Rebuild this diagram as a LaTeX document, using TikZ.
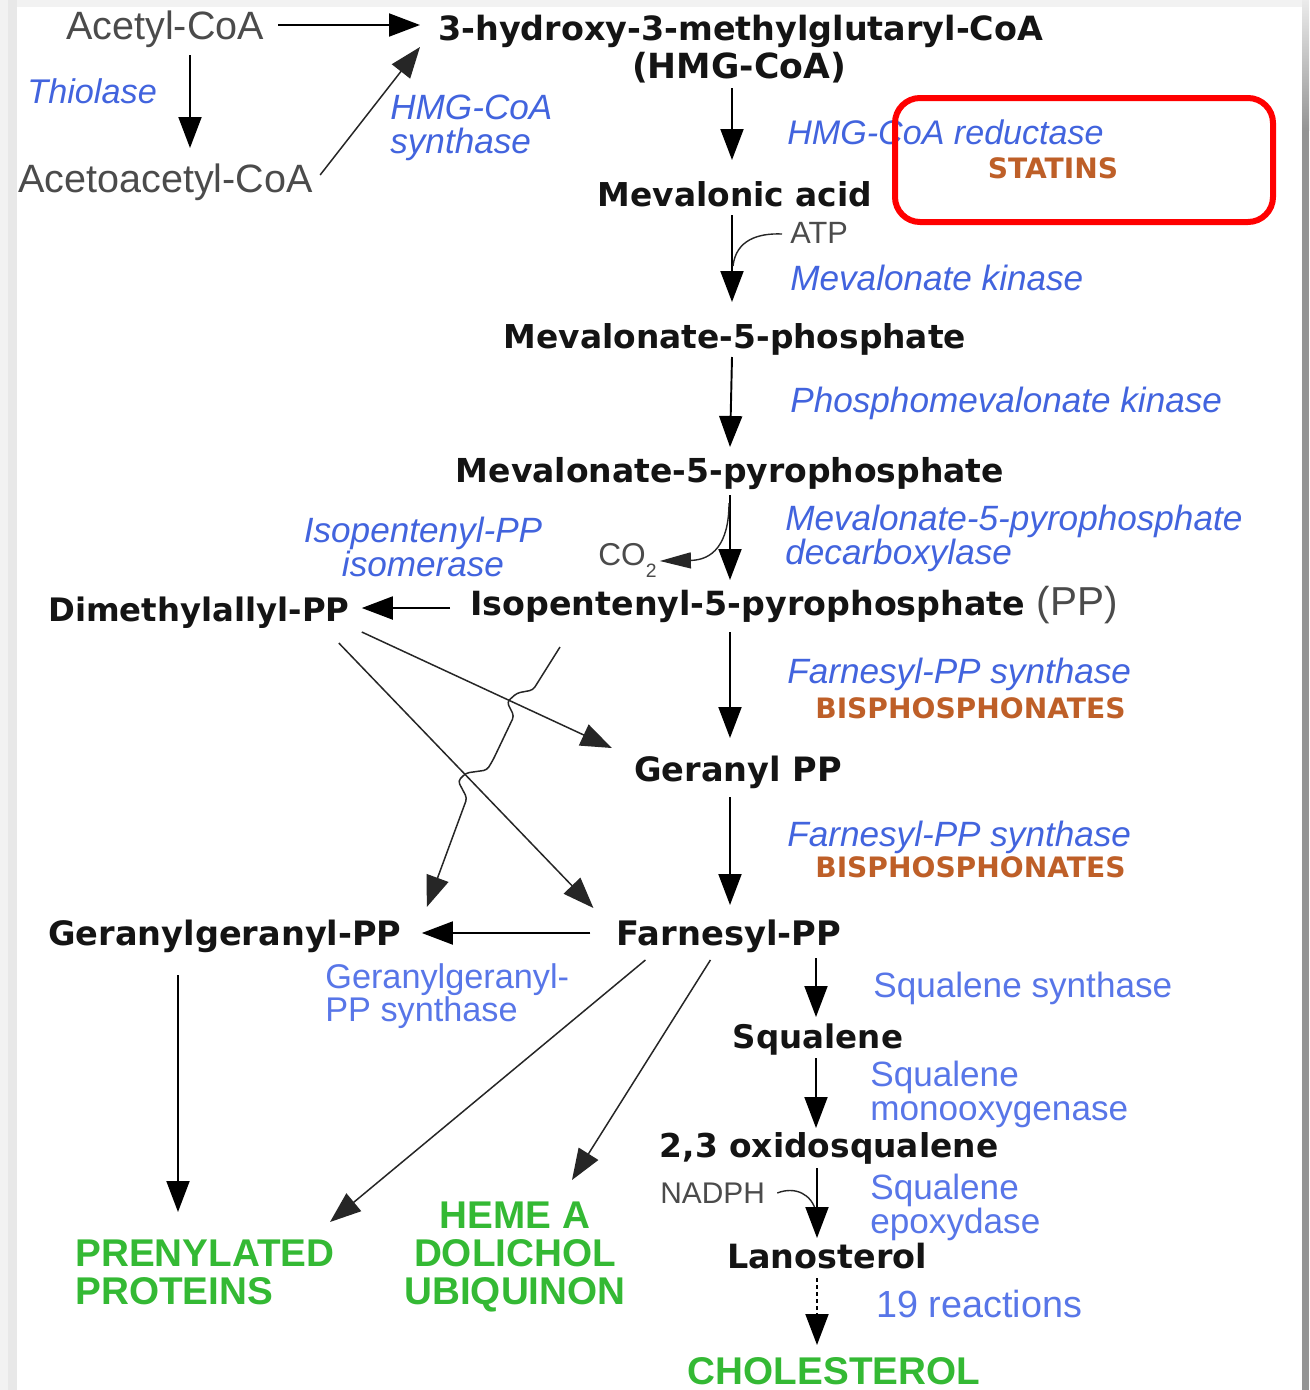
\documentclass[tikz,border=0pt]{standalone}
\usepackage{fontspec}
\setmainfont{Liberation Sans}
\newfontfamily\djv{DejaVu Sans}
\usetikzlibrary{arrows.meta,calc}
\definecolor{enzblue}{RGB}{66,100,222}
\definecolor{enzblueu}{RGB}{88,118,232}
\definecolor{drugor}{RGB}{190,95,40}
\definecolor{prodgreen}{RGB}{52,185,52}
\definecolor{subgray}{RGB}{75,75,75}
\definecolor{boxred}{RGB}{255,0,0}
\begin{document}
\begin{tikzpicture}[x=0.02cm,y=-0.02cm,
  met/.style={text=black!92, inner sep=0pt, font=\djv\bfseries\fontsize{#1}{#1}\selectfont}, met/.default=18.8,
  gry/.style={text=subgray, inner sep=0pt, font=\fontsize{#1}{#1}\selectfont}, gry/.default=22.5,
  enz/.style={text=enzblue, inner sep=0pt, font=\itshape\fontsize{#1}{19.3}\selectfont}, enz/.default=20,
  enzu/.style={text=enzblueu, inner sep=0pt, font=\fontsize{#1}{19}\selectfont}, enzu/.default=20,
  drug/.style={text=drugor, inner sep=0pt, font=\djv\bfseries\fontsize{16}{16}\selectfont},
  prod/.style={text=prodgreen, inner sep=0pt, font=\bfseries\fontsize{22}{21.6}\selectfont},
  arr/.style={draw=black, line width=1.1pt, -{Triangle[length=0.62cm,width=0.46cm]}},
  tarr/.style={draw=black!85, line width=0.85pt, -{Triangle[length=0.62cm,width=0.46cm]}},
  thinline/.style={draw=black!85, line width=0.8pt},
]
\useasboundingbox (0,0) rectangle (1309,1390);
% background and frame
\fill[black!5] (0,0) rectangle (1309,1390);
\fill[black!9] (8,0) rectangle (17,1390);
\fill[white] (17,7) rectangle (1302,1390);
\shade[top color=black!8, bottom color=black!42] (1302,0) rectangle (1309,130);
\fill[black!42] (1302,130) rectangle (1309,1390);

% nodes
\node[gry, anchor=base west] (acetyl) at (66,39) {Acetyl-CoA};
\node[gry, anchor=base west] (acetoac) at (18,192) {Acetoacetyl-CoA};
\node[enz=19.5, anchor=base west] (thiol) at (27,103) {Thiolase};
\node[enz, anchor=north west, align=left] (hmgs) at (390,95) {HMG-CoA\\synthase};
\node[met=19, anchor=base west] (hmg) at (438,40) {3-hydroxy-3-methylglutaryl-CoA};
\node[met=19.7, anchor=base] (hmgb) at (739,78) {(HMG-CoA)};
\node[enz=19.4, anchor=base west] (red) at (787,144) {HMG-CoA reductase};
\node[drug, anchor=base] (stat) at (1053,178) {STATINS};
\node[met=18.7, anchor=base] (mev) at (735,206) {Mevalonic acid};
\node[gry=17.5, anchor=base west] (atp) at (790,243) {ATP};
\node[enz, anchor=base west] (mevk) at (790,290) {Mevalonate kinase};
\node[met=18.7, anchor=base] (m5p) at (735,348) {Mevalonate-5-phosphate};
\node[enz, anchor=base west] (pmk) at (790,412) {Phosphomevalonate kinase};
\node[met=18.78, anchor=base] (m5pp) at (730,482) {Mevalonate-5-pyrophosphate};
\node[enz, anchor=north west, align=left] (mpd) at (785,505) {Mevalonate-5-pyrophosphate\\decarboxylase};
\node[enz, anchor=north, align=center] (ipi) at (423,517) {Isopentenyl-PP\\isomerase};
\node[gry=18, anchor=base west] (co2) at (598,565) {CO\raisebox{-7pt}{\fontsize{11}{11}\selectfont 2}};
\node[met=18.95, anchor=base west] (ipp) at (470,615) {Isopentenyl-5-pyrophosphate {\mdseries\rmfamily\color{subgray}\fontsize{23}{23}\selectfont(PP)}};
\node[met=18.4, anchor=base west] (dmapp) at (48,621) {Dimethylallyl-PP};
\node[enz, anchor=base west] (fps1) at (787,683) {Farnesyl-PP synthase};
\node[drug, anchor=base west] (bis1) at (815,718) {BISPHOSPHONATES};
\node[met=19.1, anchor=base] (gpp) at (738,781) {Geranyl PP};
\node[enz, anchor=base west] (fps2) at (787,846) {Farnesyl-PP synthase};
\node[drug, anchor=base west] (bis2) at (815,877) {BISPHOSPHONATES};
\node[met=19.2, anchor=base] (fpp) at (729,945) {Farnesyl-PP};
\node[met=19.1, anchor=base west] (ggpp) at (48,945) {Geranylgeranyl-PP};
\node[enzu=19.5, anchor=north west, align=left] (ggps) at (325,963) {Geranylgeranyl-\\PP synthase};
\node[enzu, anchor=base west] (sqs) at (873,997) {Squalene synthase};
\node[met=18.5, anchor=base] (sq) at (818,1048) {Squalene};
\node[enzu, anchor=north west, align=left] (sqm) at (870,1061) {Squalene\\monooxygenase};
\node[met=18.7, anchor=base] (ox) at (829,1157) {2,3 oxidosqualene};
\node[gry=17, anchor=base west] (nadph) at (660,1203) {NADPH};
\node[enzu, anchor=north west, align=left] (sqe) at (870,1174) {Squalene\\epoxydase};
\node[met=19, anchor=base] (lan) at (827,1268) {Lanosterol};
\node[enzu=21.5, anchor=base west] (r19) at (876,1317) {19 reactions};
\node[prod, anchor=base] (chol) at (834,1384) {CHOLESTEROL};
\node[prod, anchor=north, align=center] (heme) at (515,1202) {HEME A\\DOLICHOL\\UBIQUINON};
\node[prod, anchor=north west, align=left] (prenyl) at (75,1240) {PRENYLATED\\PROTEINS};

% red highlight box
\draw[boxred, line width=0.12cm, rounded corners=0.5cm] (895,98) rectangle (1273,222);

% connectors
\draw[arr] ($(acetyl.base west)+(124,16)$) -- ($(acetoac.base west)+(172,-44)$);
\draw[arr] ($(acetyl.base east)+(14,-14)$) -- ($(hmg.base west)+(-18,-15)$);
\draw[tarr] ($(acetoac.base east)+(7,-17)$) -- ($(hmg.base west)+(-18,7)$);
\draw[arr] ($(hmgb.base)+(-7,10)$) -- ($(mev.base)+(-3,-46)$);
\draw[arr] ($(mev.base)+(-3,9)$) -- ($(m5p.base)+(-3,-46)$);
\coordinate (atpj) at (733,266);
\draw[thinline] ($(atp.base west)+(-8,-9)$) .. controls (758,233) and (736,240) .. (atpj);
\draw[arr] ($(m5p.base)+(-3,9)$) -- ($(m5pp.base)+(0,-35)$);
\draw[arr] ($(m5pp.base)+(0,13)$) -- ($(ipp.base west)+(260,-35)$);
\coordinate (co2j) at (729,503);
\draw[thinline, -{Triangle[length=0.62cm,width=0.32cm]}] (co2j) .. controls (729,545) and (712,560) .. ($(co2.base east)+(3,-4)$);
\draw[arr] ($(ipp.base west)+(-20,-7)$) -- ($(dmapp.base east)+(12,-13)$);
\draw[arr] ($(ipp.base west)+(260,17)$) -- ($(gpp.base)+(-8,-43)$);
\draw[arr] ($(gpp.base)+(-8,16)$) -- ($(fpp.base)+(1,-40)$);
\draw[arr] ($(fpp.base west)+(-26,-12)$) -- ($(ggpp.base east)+(20,-12)$);
\draw[tarr] ($(dmapp.base east)+(12,11)$) -- ($(gpp.base west)+(-22,-33)$);
\draw[tarr] ($(dmapp.base east)+(-11,22)$) -- ($(fpp.base west)+(-23,-37)$);
\draw[tarr, rounded corners=2pt] ($(ipp.base west)+(90,32)$) -- (533,690) -- (517,693) -- (507,702) -- (514,716) -- (493,760) -- (487,770) -- (466,773) -- (458,781) -- (467,798) -- ($(ggpp.base east)+(25,-38)$);
\draw[arr] ($(ggpp.base west)+(130,30)$) -- ($(prenyl.north west)+(103,-28)$);
\draw[tarr] ($(fpp.base west)+(29,15)$) -- ($(prenyl.north west)+(255,-18)$);
\draw[tarr] ($(fpp.base west)+(94,15)$) -- ($(heme.north)+(57,-22)$);
\draw[arr] ($(fpp.base)+(87,13)$) -- ($(sq.base)+(-2,-31)$);
\draw[arr] ($(sq.base)+(-2,10)$) -- ($(ox.base)+(-13,-29)$);
\coordinate (nadj) at (816,1212);
\draw[thinline] ($(nadph.base east)+(12,-10)$) .. controls (795,1186) and (812,1194) .. (nadj);
\draw[arr] ($(ox.base)+(-12,11)$) -- ($(lan.base)+(-10,-30)$);
\draw[arr, dash pattern=on 2pt off 2pt] ($(lan.base)+(-10,10)$) -- ($(chol.base)+(-17,-39)$);
\end{tikzpicture}
\end{document}
